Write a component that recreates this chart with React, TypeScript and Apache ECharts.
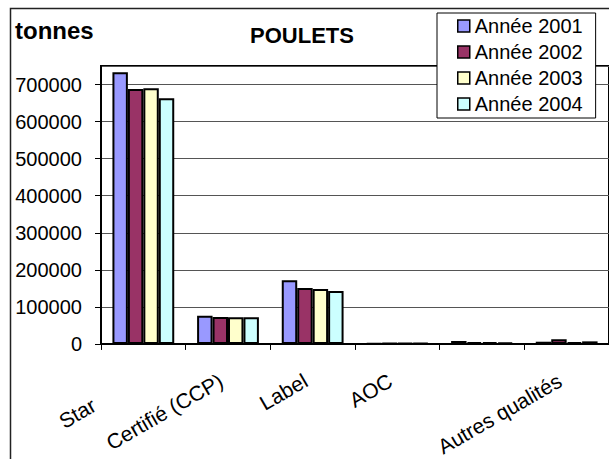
import React, { useEffect, useRef } from "react";
import * as echarts from "echarts";

const categories = ["Standard", "Certifié (CCP)", "Label", "AOC", "", "Autres qualités"];
const seriesNames = ["Année 2001", "Année 2002", "Année 2003", "Année 2004"];
const y2001 = [733000, 76000, 172000, 1500, 8000, 6000];
const y2002 = [688000, 73000, 151000, 1800, 4500, 12500];
const y2003 = [690000, 72000, 148000, 2000, 4500, 4500];
const y2004 = [663000, 72000, 143000, 2000, 3500, 7000];
const colors = ["#9999FF", "#993366", "#FFFFCC", "#CCFFFF"];
const yTicks = { min: 0, max: 750000, interval: 100000 };

const FONT = '"Liberation Sans", Arial, sans-serif';

export default function App() {
  const ref = useRef<HTMLDivElement>(null);
  useEffect(() => {
    if (!ref.current) return;
    const chart = echarts.init(ref.current, undefined, { renderer: "svg" });
    const values = [y2001, y2002, y2003, y2004];
    chart.setOption({
      animation: false,
      backgroundColor: "#fff",
      textStyle: { fontFamily: FONT },
      grid: {
        left: 101,
        top: 66,
        width: 514,
        height: 279,
        show: true,
        borderColor: "#000",
        borderWidth: 2,
        backgroundColor: "#fff",
        containLabel: false,
      },
      legend: {
        data: seriesNames,
        orient: "vertical",
        left: 437,
        top: 13,
        padding: [3, 13, 4, 20],
        itemGap: 6,
        itemWidth: 12,
        itemHeight: 12,
        icon: "rect",
        borderColor: "#000",
        borderWidth: 1,
        backgroundColor: "#fff",
        itemStyle: { borderColor: "#000", borderWidth: 1.5 },
        textStyle: { fontSize: 20, color: "#000", lineHeight: 20, fontFamily: FONT },
      },
      xAxis: {
        type: "category",
        data: categories,
        axisLine: { show: true, lineStyle: { color: "#000", width: 2 } },
        axisTick: { show: true, length: 6, lineStyle: { color: "#000", width: 1 } },
        splitLine: { show: false },
        axisLabel: {
          interval: 0,
          rotate: 30,
          fontSize: 21,
          color: "#000",
          fontFamily: FONT,
          margin: 31,
          padding: [0, 8, 0, 0],
          formatter: (v: string, i: number) => (i === 0 ? `{cut|Star}` : v),
          rich: {
            cut: { fontSize: 21, color: "#000", fontFamily: FONT, padding: [0, 49, 0, 0] },
          },
        },
      },
      yAxis: {
        type: "value",
        min: yTicks.min,
        max: yTicks.max,
        interval: yTicks.interval,
        axisLine: { show: true, lineStyle: { color: "#000", width: 2 } },
        axisTick: { show: true, length: 6, lineStyle: { color: "#000", width: 1 } },
        axisLabel: {
          fontSize: 20,
          color: "#000",
          fontFamily: FONT,
          margin: 19,
          showMaxLabel: false,
          formatter: (v: number) => `${v}`,
        },
        splitLine: { show: true, lineStyle: { color: "#555", width: 1 } },
      },
      series: seriesNames.map((name, k) => ({
        name,
        type: "bar",
        data: values[k],
        barGap: "0%",
        barCategoryGap: "27%",
        itemStyle: { color: colors[k], borderColor: "#000", borderWidth: 2 },
      })),
      graphic: [
        {
          type: "rect",
          z: 0,
          shape: { x: 10.5, y: 8.5, width: 700, height: 600 },
          style: { fill: "none", stroke: "#222", lineWidth: 1.5 },
        },
        {
          type: "text",
          x: 15,
          y: 30,
          style: {
            text: "tonnes",
            fontSize: 24,
            fontWeight: "bold",
            fontFamily: FONT,
            fill: "#000",
            align: "left",
            verticalAlign: "middle",
          },
        },
        {
          type: "text",
          x: 302,
          y: 35,
          style: {
            text: "POULETS",
            fontSize: 22,
            fontWeight: "bold",
            fontFamily: FONT,
            fill: "#000",
            align: "center",
            verticalAlign: "middle",
          },
        },
      ],
    });
    return () => chart.dispose();
  }, []);
  return (
    <div
      ref={ref}
      style={{ position: "absolute", left: 0, top: 0, width: 609, height: 459, overflow: "hidden" }}
    />
  );
}
